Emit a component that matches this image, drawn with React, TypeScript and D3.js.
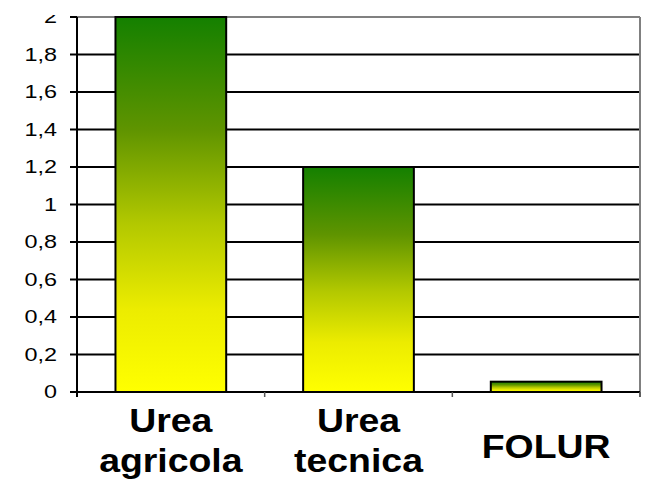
import React from 'react';
import * as d3 from 'd3';

const categories = ['Urea agricola', 'Urea tecnica', 'FOLUR'];
const categoryLines = [['Urea', 'agricola'], ['Urea', 'tecnica'], ['FOLUR']];
const values = [2.0, 1.2, 0.055];
const yTicks = [0, 0.2, 0.4, 0.6, 0.8, 1, 1.2, 1.4, 1.6, 1.8, 2];

const W = 646;
const H = 483;
const margin = { top: 17, right: 6, bottom: 91, left: 77 };

export default function App() {
  const innerW = W - margin.left - margin.right;
  const innerH = H - margin.top - margin.bottom;

  const x = d3.scaleBand<string>().domain(categories).range([0, innerW]).paddingInner(0.41).paddingOuter(0.205);
  const band = d3.scaleBand<string>().domain(categories).range([0, innerW]);
  const y = d3.scaleLinear().domain([0, 2]).range([innerH, 0]);
  const fmt = (v: number) => String(v).replace('.', ',');

  return (
    <svg width={W} height={H} style={{ position: 'absolute', left: 0, top: 0, background: '#fff' }}>
      <defs>
        <linearGradient id="barGrad" x1="0" y1="0" x2="0" y2="1">
          <stop offset="0" stopColor="#148000" />
          <stop offset="0.3" stopColor="#5f9400" />
          <stop offset="0.55" stopColor="#b2c800" />
          <stop offset="0.78" stopColor="#ecec00" />
          <stop offset="1" stopColor="#ffff00" />
        </linearGradient>
        <clipPath id="cut">
          <rect x={0} y={15} width={W} height={H - 15} />
        </clipPath>
      </defs>
      <g clipPath="url(#cut)" fontFamily="Arial, 'Liberation Sans', sans-serif">
        <g transform={`translate(${margin.left},${margin.top})`}>
          {/* gridlines */}
          {yTicks.filter(t => t > 0 && t < 2).map(t => (
            <line key={t} x1={0} x2={innerW} y1={y(t)} y2={y(t)} stroke="#000" strokeWidth={2} />
          ))}
          {/* plot border top/right */}
          <line x1={0} x2={innerW} y1={y(2)} y2={y(2)} stroke="#808080" strokeWidth={2} />
          <line x1={innerW} x2={innerW} y1={y(2)} y2={innerH + 5} stroke="#808080" strokeWidth={2} />
          {/* bars */}
          {categories.map((c, i) => (
            <rect
              key={c}
              x={x(c)}
              y={y(values[i])}
              width={x.bandwidth()}
              height={innerH - y(values[i])}
              fill="url(#barGrad)"
              stroke="#000"
              strokeWidth={2}
            />
          ))}
          {/* x axis */}
          <line x1={0} x2={innerW} y1={innerH} y2={innerH} stroke="#000" strokeWidth={2} />
          {categories.map(c => (
            <line key={c} x1={(band(c) ?? 0) + band.bandwidth()} x2={(band(c) ?? 0) + band.bandwidth()} y1={innerH} y2={innerH + 5} stroke="#555" strokeWidth={1.5} />
          ))}
          {/* y axis */}
          <line x1={0} x2={0} y1={y(2)} y2={innerH + 5} stroke="#000" strokeWidth={2} />
          {yTicks.map(t => (
            <g key={t}>
              <line x1={-7} x2={0} y1={y(t)} y2={y(t)} stroke="#000" strokeWidth={2} />
              <g transform={`translate(-20,${y(t)}) scale(1.3,1)`}>
                <text textAnchor="end" dy="0.35em" fontSize={18} fill="#000">{fmt(t)}</text>
              </g>
            </g>
          ))}
          {/* category labels */}
          {categories.map((c, i) => {
            const cx = (band(c) ?? 0) + band.bandwidth() / 2;
            const lines = categoryLines[i];
            const startY = lines.length === 1 ? innerH + 66 : innerH + 40;
            return lines.map((l, j) => (
              <g key={c + j} transform={`translate(${cx},${startY + j * 39.5}) scale(1.1,1)`}>
                <text textAnchor="middle" fontSize={34} fontWeight="bold" fill="#000">{l}</text>
              </g>
            ));
          })}
        </g>
      </g>
    </svg>
  );
}
